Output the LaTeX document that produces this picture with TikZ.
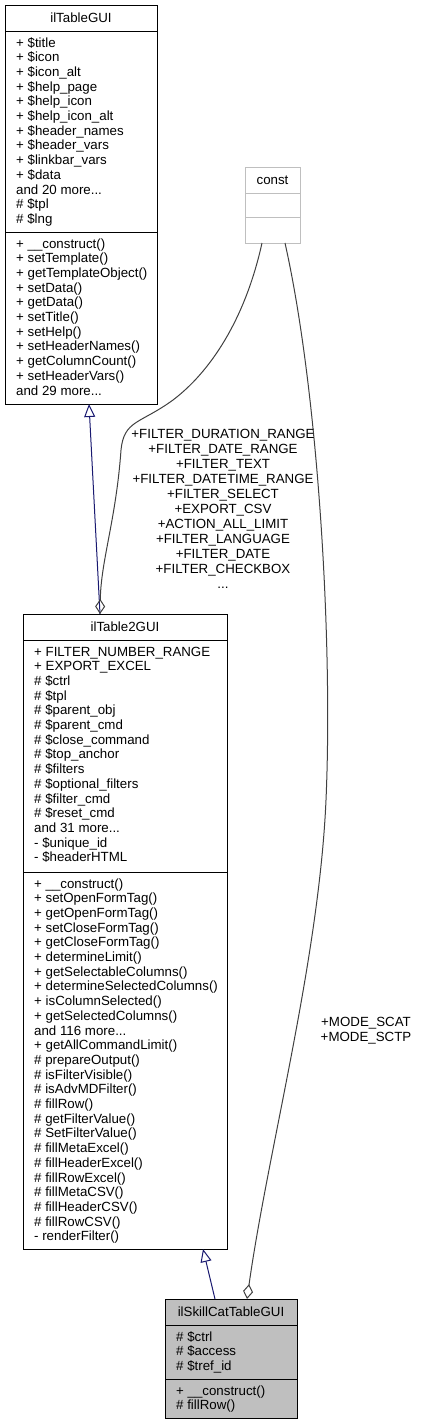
\documentclass[tikz,border=0pt]{standalone}
\usepackage{fontspec}
\setmainfont{Liberation Sans}
\usetikzlibrary{arrows.meta}
\definecolor{navy}{HTML}{191970}
\definecolor{edgegray}{HTML}{404040}
\definecolor{boxgray}{HTML}{BFBFBF}
\newcommand\rowfont{\fontsize{13.3}{14.7}\selectfont}
\newcommand\tdots{...}
\newcommand\putrows[4]{\foreach \t [count=\i] in {#4} {\node[row] (#1-\i) at (#2,{#3+(\i-1)*14.7}) {\t};}}
\begin{document}
\begin{tikzpicture}[x=1pt,y=-1pt,
  classbox/.style={draw=black, line width=1pt, fill=white, inner sep=0pt, anchor=north west},
  constbox/.style={draw=boxgray, line width=1pt, fill=white, inner sep=0pt, anchor=north west},
  sepline/.style={line width=1pt},
  row/.style={anchor=base west, inner sep=0pt, font=\rowfont},
  title/.style={anchor=center, inner sep=0pt, font=\rowfont},
  lbl/.style={anchor=base, inner sep=0pt, font=\rowfont},
  inherit/.style={draw=navy, line width=1pt, -{Triangle[open, length=13pt, width=11pt]}},
  usage/.style={draw=edgegray, line width=1pt, -{Diamond[open, length=15pt, width=10pt]}}]
\useasboundingbox (0,0) rectangle (428,1425);

% ilTableGUI
\node[classbox, minimum width=152pt, minimum height=399pt] (tablegui) at (5,5) {};
\draw[sepline] (5,31) -- (157,31);
\draw[sepline] (5,232) -- (157,232);
\node[title] (tablegui-t) at (81,18) {ilTableGUI};
\putrows{tga}{16}{47}{+ \$title,+ \$icon,+ \$icon\_alt,+ \$help\_page,+ \$help\_icon,+ \$help\_icon\_alt,+ \$header\_names,+ \$header\_vars,+ \$linkbar\_vars,+ \$data,and 20 more\tdots,\# \$tpl,\# \$lng}
\putrows{tgm}{16}{248}{+ \_\_construct(),+ setTemplate(),+ getTemplateObject(),+ setData(),+ getData(),+ setTitle(),+ setHelp(),+ setHeaderNames(),+ getColumnCount(),+ setHeaderVars(),and 29 more\tdots}

% const
\node[constbox, minimum width=55pt, minimum height=76pt] (const) at (245,167) {};
\draw[draw=boxgray, line width=1pt] (245,193) -- (300,193);
\draw[draw=boxgray, line width=1pt] (245,217) -- (300,217);
\node[title] (const-t) at (272.5,180) {const};

% ilTable2GUI
\node[classbox, minimum width=204pt, minimum height=635pt] (table2) at (23,614) {};
\draw[sepline] (23,640) -- (227,640);
\draw[sepline] (23,872) -- (227,872);
\node[title] (table2-t) at (125,627) {ilTable2GUI};
\putrows{t2a}{34}{656}{+ FILTER\_NUMBER\_RANGE,+ EXPORT\_EXCEL,\# \$ctrl,\# \$tpl,\# \$parent\_obj,\# \$parent\_cmd,\# \$close\_command,\# \$top\_anchor,\# \$filters,\# \$optional\_filters,\# \$filter\_cmd,\# \$reset\_cmd,and 31 more\tdots,- \$unique\_id,- \$headerHTML}
\putrows{t2m}{34}{888}{+ \_\_construct(),+ setOpenFormTag(),+ getOpenFormTag(),+ setCloseFormTag(),+ getCloseFormTag(),+ determineLimit(),+ getSelectableColumns(),+ determineSelectedColumns(),+ isColumnSelected(),+ getSelectedColumns(),and 116 more\tdots,+ getAllCommandLimit(),\# prepareOutput(),\# isFilterVisible(),\# isAdvMDFilter(),\# fillRow(),\# getFilterValue(),\# SetFilterValue(),\# fillMetaExcel(),\# fillHeaderExcel(),\# fillRowExcel(),\# fillMetaCSV(),\# fillHeaderCSV(),\# fillRowCSV(),- renderFilter()}

% ilSkillCatTableGUI
\node[classbox, fill=boxgray, minimum width=132pt, minimum height=119pt] (skill) at (165,1299) {};
\draw[sepline] (165,1325) -- (297,1325);
\draw[sepline] (165,1379) -- (297,1379);
\node[title] (skill-t) at (231,1312) {ilSkillCatTableGUI};
\putrows{ska}{176}{1341}{\# \$ctrl,\# \$access,\# \$tref\_id}
\putrows{skm}{176}{1395}{+ \_\_construct(),\# fillRow()}

% connector end points on the boxes
\coordinate (c-l) at (262,243);
\coordinate (c-r) at (285,243);
\coordinate (t2-top) at (100,614);
\coordinate (tg-bot) at (89,404);
\coordinate (sk-top-l) at (215,1299);
\coordinate (t2-bot) at (203,1249);
\coordinate (sk-top-r) at (247,1299);

% inheritance
\draw[inherit] (t2-top) -- (tg-bot);
\draw[inherit] (sk-top-l) -- (t2-bot);

% usage
\draw[usage] (c-l) .. controls (245,320) and (210,372) .. (173,400)
  .. controls (140,424) and (124,420) .. (121,450)
  .. controls (116,520) and (101,560) .. (t2-top);
\draw[usage] (c-r) .. controls (318,390) and (333,640) .. (326,800)
  .. controls (319,960) and (268,1150) .. (sk-top-r);

% labels
\foreach \t [count=\i] in {+FILTER\_DURATION\_RANGE,+FILTER\_DATE\_RANGE,+FILTER\_TEXT,+FILTER\_DATETIME\_RANGE,+FILTER\_SELECT,+EXPORT\_CSV,+ACTION\_ALL\_LIMIT,+FILTER\_LANGUAGE,+FILTER\_DATE,+FILTER\_CHECKBOX,\tdots}
  {\node[lbl] (lbl1-\i) at (223,{438+(\i-1)*15}) {\t};}
\node[lbl] (lbl2-1) at (366,1026) {+MODE\_SCAT};
\node[lbl] (lbl2-2) at (366,1041) {+MODE\_SCTP};
\end{tikzpicture}
\end{document}
